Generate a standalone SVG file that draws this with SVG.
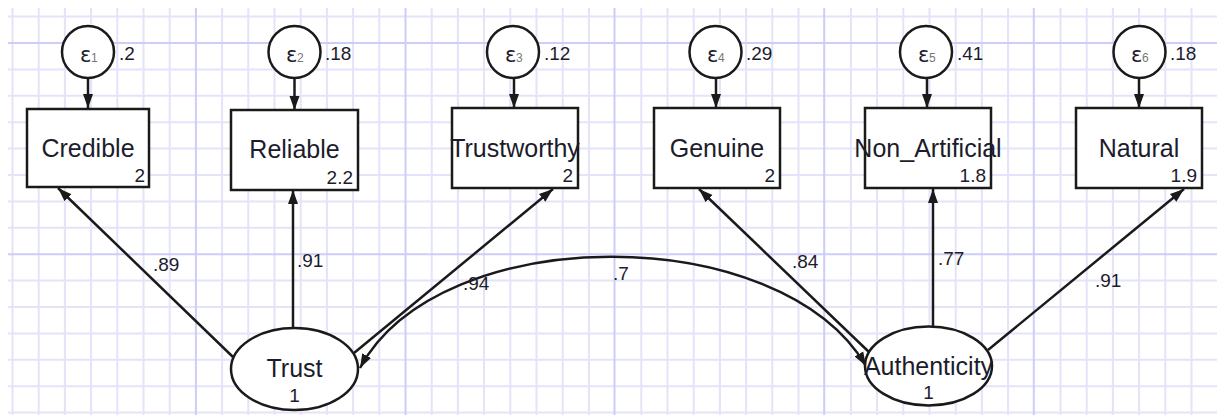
<svg xmlns="http://www.w3.org/2000/svg" width="1217" height="415" viewBox="0 0 1217 415">
<style>
.minor{stroke:#e3e3fa;stroke-width:2;fill:none}
.major{stroke:#cdcdf6;stroke-width:2;fill:none}
.shape{fill:#fff;stroke:#1a1a1a;stroke-width:2.5}
.edge{stroke:#1a1a1a;stroke-width:2.5;fill:none;marker-end:url(#ah)}
.lbl{font-family:"Liberation Sans",Arial,sans-serif;font-size:25px;fill:#1c1c2c;text-anchor:middle}
.num{font-family:"Liberation Sans",Arial,sans-serif;font-size:19px;fill:#1c1c2c}
.eps{font-family:"DejaVu Sans","Liberation Sans",sans-serif;font-size:21px;fill:#1c1c2c}
.sub{font-family:"Liberation Sans",Arial,sans-serif;font-size:12px;fill:#777}
</style>
<defs>
<marker id="ah" markerUnits="userSpaceOnUse" markerWidth="16" markerHeight="12" refX="14" refY="5.5" orient="auto-start-reverse"><path d="M0,0.5 L14,5.5 L0,10.5 z" fill="#1a1a1a"/></marker>
</defs>
<rect width="1217" height="415" fill="#fff"/>
<g id="grid">
<path class="minor" d="M12.5 8V415M38.7 8V415M64.9 8V415M91.1 8V415M117.3 8V415M143.5 8V415M169.7 8V415M222.1 8V415M248.3 8V415M274.5 8V415M300.7 8V415M326.9 8V415M353.1 8V415M379.3 8V415M431.7 8V415M457.9 8V415M484.1 8V415M510.3 8V415M536.5 8V415M562.7 8V415M588.9 8V415M641.3 8V415M667.5 8V415M693.7 8V415M719.9 8V415M746.1 8V415M772.3 8V415M798.5 8V415M850.9 8V415M877.1 8V415M903.3 8V415M929.5 8V415M955.7 8V415M981.9 8V415M1008.1 8V415M1060.5 8V415M1086.7 8V415M1112.9 8V415M1139.1 8V415M1165.3 8V415M1191.5 8V415M8 16.6H1217M8 69.4H1217M8 95.8H1217M8 122.2H1217M8 148.6H1217M8 175H1217M8 201.4H1217M8 227.8H1217M8 280.6H1217M8 307H1217M8 333.4H1217M8 359.8H1217M8 386.2H1217M8 412.6H1217"/>
<path class="major" d="M195.9 8V415M405.5 8V415M614.5 8V415M824.2 8V415M1033.8 8V415M8 43H1217M8 254.2H1217"/>
</g>
<g id="connectors">
<path class="edge" d="M88 79V108"/>
<path class="edge" d="M294.5 79V110"/>
<path class="edge" d="M514 79V108"/>
<path class="edge" d="M716 79V108"/>
<path class="edge" d="M927 79V108"/>
<path class="edge" d="M1139 79V108"/>
<path class="edge" d="M233 357L58 188"/>
<path class="edge" d="M293 328V190"/>
<path class="edge" d="M354 353L553 189"/>
<path class="edge" d="M870 353L699 189"/>
<path class="edge" d="M933 327V189"/>
<path class="edge" d="M988 350L1184 189"/>
<path class="edge" d="M360 368C440 220 780 220 866 366" marker-start="url(#ah)"/>
</g>
<g id="e1"><circle class="shape" cx="88" cy="52" r="26"/><text class="eps" x="80" y="62">ε</text><text class="sub" x="91" y="62">1</text><text class="num" x="119" y="60">.2</text></g>
<g id="e2"><circle class="shape" cx="294.5" cy="52" r="26"/><text class="eps" x="286" y="62">ε</text><text class="sub" x="297" y="62">2</text><text class="num" x="325" y="60">.18</text></g>
<g id="e3"><circle class="shape" cx="513" cy="52" r="26"/><text class="eps" x="505" y="62">ε</text><text class="sub" x="516" y="62">3</text><text class="num" x="544" y="60">.12</text></g>
<g id="e4"><circle class="shape" cx="715.5" cy="52" r="26"/><text class="eps" x="707" y="62">ε</text><text class="sub" x="718" y="62">4</text><text class="num" x="746" y="60">.29</text></g>
<g id="e5"><circle class="shape" cx="926" cy="52" r="26"/><text class="eps" x="918" y="62">ε</text><text class="sub" x="929" y="62">5</text><text class="num" x="957" y="60">.41</text></g>
<g id="e6"><circle class="shape" cx="1139.5" cy="52" r="26"/><text class="eps" x="1131" y="62">ε</text><text class="sub" x="1142" y="62">6</text><text class="num" x="1170" y="60">.18</text></g>
<g id="Credible"><rect class="shape" x="27" y="109" width="122" height="78"/><text class="lbl" x="88" y="157">Credible</text><text class="num" x="145" y="182" text-anchor="end">2</text></g>
<g id="Reliable"><rect class="shape" x="231" y="110" width="127" height="80"/><text class="lbl" x="294.5" y="158">Reliable</text><text class="num" x="353" y="184" text-anchor="end">2.2</text></g>
<g id="Trustworthy"><rect class="shape" x="452" y="108" width="126" height="80"/><text class="lbl" x="515" y="157">Trustworthy</text><text class="num" x="573" y="182" text-anchor="end">2</text></g>
<g id="Genuine"><rect class="shape" x="654" y="108" width="126" height="80"/><text class="lbl" x="717" y="157">Genuine</text><text class="num" x="775" y="182" text-anchor="end">2</text></g>
<g id="Non_Artificial"><rect class="shape" x="865" y="108" width="126" height="80"/><text class="lbl" x="928" y="157">Non_Artificial</text><text class="num" x="986" y="182" text-anchor="end">1.8</text></g>
<g id="Natural"><rect class="shape" x="1076" y="108" width="126" height="80"/><text class="lbl" x="1139" y="157">Natural</text><text class="num" x="1197" y="182" text-anchor="end">1.9</text></g>
<g id="Trust"><ellipse class="shape" cx="294.5" cy="369" rx="63.5" ry="41"/><text class="lbl" x="294.5" y="377">Trust</text><text class="num" x="294.5" y="402" text-anchor="middle">1</text></g>
<g id="Authenticity"><ellipse class="shape" cx="928.5" cy="366" rx="63.5" ry="39.5"/><text class="lbl" x="928.5" y="375">Authenticity</text><text class="num" x="928.5" y="399" text-anchor="middle">1</text></g>
<g id="labels">
<text class="num" x="153" y="271">.89</text>
<text class="num" x="297" y="267">.91</text>
<text class="num" x="463" y="290">.94</text>
<text class="num" x="613" y="280">.7</text>
<text class="num" x="792" y="268">.84</text>
<text class="num" x="938" y="265">.77</text>
<text class="num" x="1095" y="287">.91</text>
</g>
</svg>
